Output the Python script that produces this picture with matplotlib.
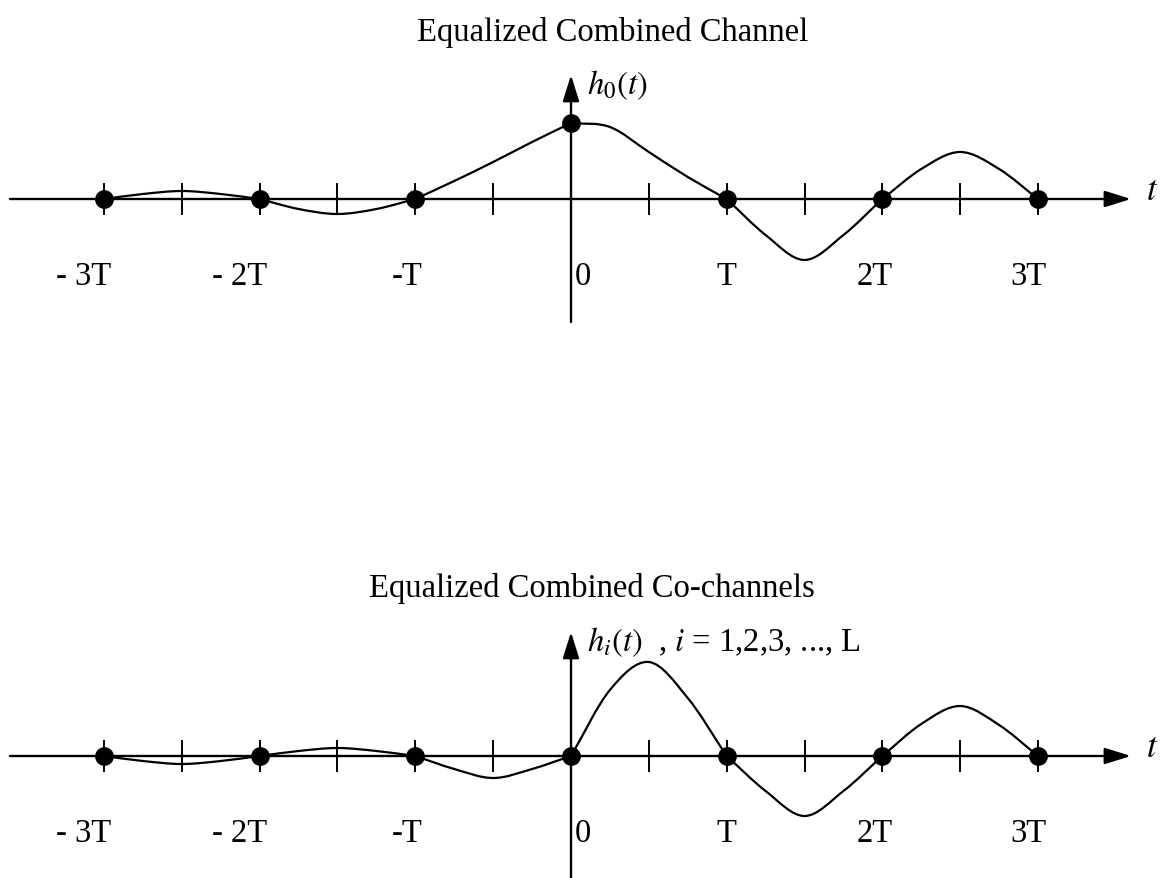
import numpy as np
import matplotlib
matplotlib.use("Agg")
import matplotlib.pyplot as plt
from matplotlib.path import Path
from matplotlib.patches import PathPatch

plt.rcParams['font.family'] = ['Liberation Serif', 'DejaVu Serif']
plt.rcParams['mathtext.fontset'] = 'stix'

# time axis in units of T, sampled every quarter period
t_pts = [-3, -2.75, -2.5, -2.25, -2, -1.75, -1.5, -1.25, -1, -0.75, -0.5, -0.25,
         0, 0.25, 0.5, 0.75, 1, 1.25, 1.5, 1.75, 2, 2.25, 2.5, 2.75, 3]
h0_vals = [0, 5, 8, 5, 0, -10, -15, -10, 0, 18, 37, 57,
           76, 72, 47, 22, 0, -36, -61, -36, 0, 30, 47, 30, 0]
hi_vals = [0, -5, -8, -5, 0, 5, 8, 5, 0, -13, -22, -13,
           0, 66, 94, 58, 0, -35, -60, -35, 0, 32, 50, 31, 0]

sample_t = [-3, -2, -1, 0, 1, 2, 3]
h0_samples = [0, 0, 0, 76, 0, 0, 0]
hi_samples = [0, 0, 0, 0, 0, 0, 0]
tick_labels = ['- 3T', '- 2T', '-T', '0', 'T', '2T', '3T']
label_dx = [-20, -20, -8, 12, 0, -8, -10]   # pixel nudges for the labels

T_PX = 155.67
X0_PX = 571
W, H = 1161, 879

fig = plt.figure(figsize=(W / 100, H / 100), dpi=100)


def lobe_path(xs, ys, verts, codes):
    # Catmull-Rom through one stretch between sample instants
    p = np.column_stack([xs, ys]).astype(float)
    n = len(p)
    if not verts:
        verts.append(p[0])
        codes.append(Path.MOVETO)
    for i in range(n - 1):
        if i == 0:
            c1 = p[0] + (p[1] - p[0]) / 3.0
        else:
            c1 = p[i] + (p[i + 1] - p[i - 1]) / 6.0
        if i + 2 >= n:
            c2 = p[i + 1] - (p[i + 1] - p[i]) / 3.0
        else:
            c2 = p[i + 1] - (p[i + 2] - p[i]) / 6.0
        verts += [c1, c2, p[i + 1]]
        codes += [Path.CURVE4] * 3


def curve(xs, ys):
    verts, codes = [], []
    xs = list(xs)
    breaks = [i for i, t in enumerate(xs) if float(t).is_integer()]
    for a, b in zip(breaks[:-1], breaks[1:]):
        lobe_path(xs[a:b + 1], ys[a:b + 1], verts, codes)
    return Path(verts, codes)


def panel(axis_row, vals, samples, title, title_x, ylabel, y_bottom):
    ax = fig.add_axes([0, 0, 1, 1])
    ax.set_xlim(-X0_PX / T_PX, (W - X0_PX) / T_PX)
    ax.set_ylim(-(H - axis_row), axis_row)
    ax.axis('off')
    ax.patch.set_alpha(0)

    px = 1.0 / T_PX
    arrow = dict(arrowstyle='-|>,head_length=1.6,head_width=0.5',
                 lw=1.7, color='black', mutation_scale=10,
                 shrinkA=0, shrinkB=0)
    # horizontal time axis
    ax.annotate('', xy=(3.597, 0), xytext=(-3.604, 0), arrowprops=arrow)
    # vertical axis
    ax.annotate('', xy=(0, 124), xytext=(0, y_bottom), arrowprops=arrow)
    # tick marks at every half period
    for k in np.arange(-3, 3.5, 0.5):
        if k == 0:
            continue
        ax.plot([k, k], [-15, 15], color='black', lw=1.4)

    ax.add_patch(PathPatch(curve(t_pts, vals), fill=False,
                           lw=1.6, edgecolor='black', capstyle='round',
                           joinstyle='round'))
    ax.plot(sample_t, samples, 'o', color='black', ms=12.5)

    for t, lab, dx in zip(sample_t, tick_labels, label_dx):
        ax.text(t + dx * px, -77, lab, ha='center', va='center', fontsize=23.5)

    ax.text(title_x, 168, title, ha='center', va='center', fontsize=23.5)
    ax.text(16 * px, 115, ylabel, ha='left', va='center', fontsize=23.5)
    ax.text((1146 - X0_PX) / T_PX, 8, r'$t$', ha='left', va='center', fontsize=25)
    return ax


panel(200, h0_vals, h0_samples, 'Equalized Combined Channel',
      (613 - X0_PX) / T_PX, r'$h_0(t)$', -123)
panel(757, hi_vals, hi_samples, 'Equalized Combined Co-channels',
      (592 - X0_PX) / T_PX,
      r'$h_i(t)$  , $i$ = 1,2,3, ..., L', -125)

fig.savefig('out.png', dpi=100, facecolor='white')
